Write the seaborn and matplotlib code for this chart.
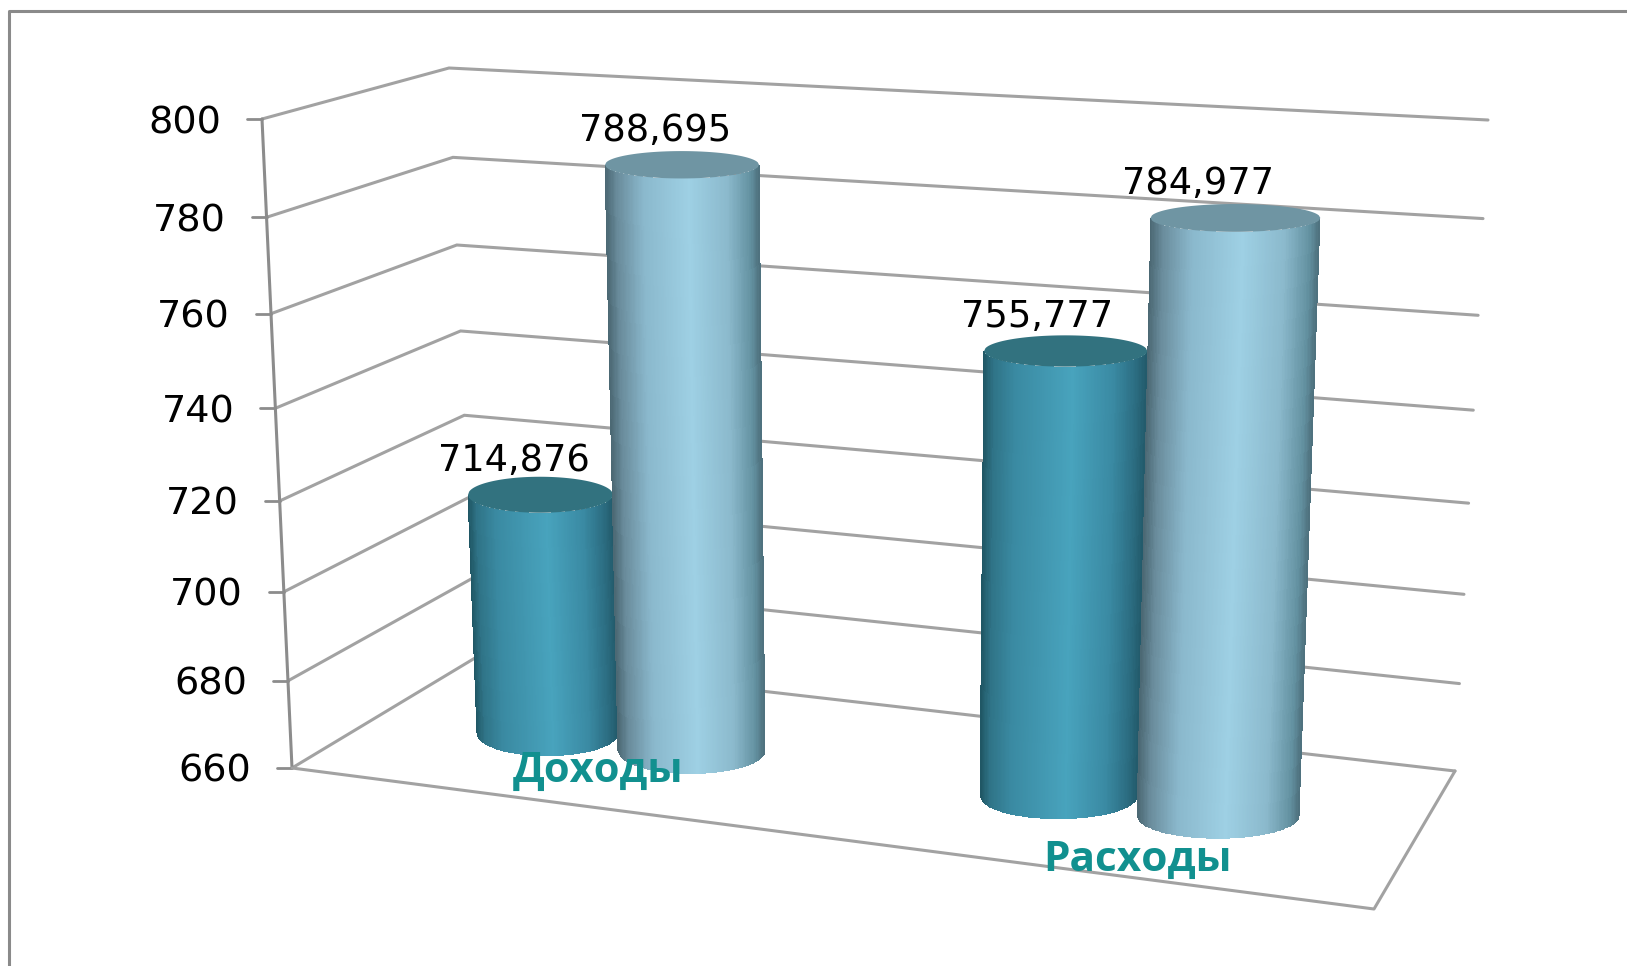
import numpy as np
import pandas as pd
import matplotlib
matplotlib.use("Agg")
import matplotlib.pyplot as plt
from matplotlib.colors import LinearSegmentedColormap
import seaborn as sns

# data
categories = ["Доходы", "Расходы"]
series_names = ["Ряд 1", "Ряд 2"]
series_1 = [714.876, 755.777]
series_2 = [788.695, 784.977]
tick_values = [660, 680, 700, 720, 740, 760, 780, 800]

# 3d box corners in image pixels: (depth front/back, bottom/top, left/right)
BOX = {
    "fbl": (292, 768), "ftl": (262, 119), "fbr": (1374, 909), "ftr": (1402, 190),
    "bbl": (475, 658), "btl": (449, 68), "bbr": (1455, 771), "btr": (1488, 120),
}
XLIM = (-0.4895, 1.4965)
YLIM = (660, 800)
DEPTH = 0.5
GRID = "#a2a2a2"
AXIS = "#8c8c8c"
LABEL_DX = [-26, -26, -28, -37]

sns.set_theme(style="white")
plt.rcParams["font.family"] = ["DejaVu Sans"]

fig = plt.figure(figsize=(16.27, 9.66), dpi=100, facecolor="white")

# seaborn does the categorical layout, the bars get redrawn in perspective
ax = fig.add_axes([0, 0, 1, 1])
df = pd.DataFrame({
    "category": categories * 2,
    "series": [series_names[0]] * 2 + [series_names[1]] * 2,
    "value": series_1 + series_2,
})
sns.barplot(df, x="category", y="value", hue="series", width=0.585, gap=0,
            palette=["#3a8aa2", "#9ed0e4"], legend=False, ax=ax)
ax.set_xlim(*XLIM)
ax.set_ylim(*YLIM)
ax.set_axis_off()
bars = [p for p in ax.patches]
for p in bars:
    p.set_visible(False)

px = fig.add_axes([0, 0, 1, 1], facecolor="none")
px.set_xlim(0, 1627)
px.set_ylim(966, 0)
px.set_axis_off()


def height_frac(v):
    t = (np.asarray(v, dtype=float) - YLIM[0]) / (YLIM[1] - YLIM[0])
    return 0.93 * t + 0.07 * t ** 2


def proj(x, depth, v):
    # x in category units, depth 0 front .. 1 back
    f = (np.asarray(x, dtype=float) - XLIM[0]) / (XLIM[1] - XLIM[0])
    f = 0.90 * f + 0.10 * f ** 2
    t = height_frac(v)
    out = []
    for i in (0, 1):
        front = ((1 - f) * ((1 - t) * BOX["fbl"][i] + t * BOX["ftl"][i])
                 + f * ((1 - t) * BOX["fbr"][i] + t * BOX["ftr"][i]))
        back = ((1 - f) * ((1 - t) * BOX["bbl"][i] + t * BOX["btl"][i])
                + f * ((1 - t) * BOX["bbr"][i] + t * BOX["btr"][i]))
        out.append((1 - depth) * front + depth * back)
    return out[0], out[1]


# frame of the picture, runs off right and bottom
px.plot([9.5, 9.5, 1640], [980, 10.5, 10.5], color="#8a8a8a", lw=2.2, clip_on=False)

# walls
for v in tick_values:
    x0, y0 = proj(XLIM[0], 0, v)
    x1, y1 = proj(XLIM[0], 1, v)
    x2, y2 = proj(XLIM[1], 1, v)
    px.plot([x0, x1, x2], [y0, y1, y2], color=GRID, lw=2.2, zorder=1, solid_joinstyle="miter")
    px.plot([x0 - 15, x0], [y0, y0], color=AXIS, lw=2, zorder=1)
    px.text(x0 - 41, y0 + 4, str(v), ha="right", va="center", fontsize=27.5, color="black")

xa, ya = proj(XLIM[0], 0, YLIM[0])
xb, yb = proj(XLIM[0], 0, YLIM[1])
px.plot([xa, xb], [ya, yb], color=AXIS, lw=2.2, zorder=1)

# floor
fx = [proj(XLIM[0], 0, YLIM[0])[0], proj(XLIM[1], 0, YLIM[0])[0], proj(XLIM[1], 1, YLIM[0])[0]]
fy = [proj(XLIM[0], 0, YLIM[0])[1], proj(XLIM[1], 0, YLIM[0])[1], proj(XLIM[1], 1, YLIM[0])[1]]
px.plot(fx, fy, color=GRID, lw=2.2, zorder=1)

# cylinders
teal = LinearSegmentedColormap.from_list("teal", [
    (0, "#1f5563"), (0.06, "#2f7386"), (0.2, "#3a8aa2"), (0.55, "#48a3bd"),
    (0.8, "#3a8aa3"), (0.95, "#2a6a7e"), (1, "#225a6a")])
light = LinearSegmentedColormap.from_list("light", [
    (0, "#4a6772"), (0.08, "#6a8c9c"), (0.25, "#8ab8cc"), (0.55, "#9ed0e4"),
    (0.8, "#8bb9cc"), (0.95, "#62909f"), (1, "#4d6f7c")])
cmaps = [teal, teal, light, light]
cap_colors = ["#32727f", "#32727f", "#6f95a3", "#6f95a3"]

# left to right, so each bar sits in front of its neighbour
order = sorted(range(len(bars)), key=lambda i: bars[i].get_x())
for z, i in enumerate(order):
    p = bars[i]
    value = p.get_height()
    s = np.linspace(0, 1, 121)
    mid = (s[:-1] + s[1:]) / 2
    xs = p.get_x() + p.get_width() * s
    arc = np.sqrt(np.clip(1 - (2 * s - 1) ** 2, 0, 1))
    xc = p.get_x() + p.get_width() / 2

    # ellipses stay level, only the centre follows the box
    x_bot = proj(xs, DEPTH, YLIM[0])[0]
    x_top = proj(xs, DEPTH, value)[0]
    y_bot = proj(xc, DEPTH, YLIM[0])[1]
    y_top = proj(xc, DEPTH, value)[1] - 2
    ry_top = 21 - 8 * float(height_frac(value))
    X = np.vstack([x_top, x_bot])
    Y = np.vstack([y_top + ry_top * arc, y_bot + 23 * arc])
    px.pcolormesh(X, Y, mid[None, :], cmap=cmaps[i], vmin=0, vmax=1, shading="flat",
                  zorder=3 + z, antialiased=False, linewidth=0)
    px.fill(np.r_[x_top, x_top[::-1]], np.r_[y_top + ry_top * arc, y_top - ry_top * arc[::-1]],
            color=cap_colors[i], lw=0, zorder=3 + z)

    # value label, Excel leaves it up and to the left of the cap
    cx = proj(xc, DEPTH, value)[0]
    px.text(cx + LABEL_DX[z], y_top - 34, f"{value:.3f}".replace(".", ","), ha="center",
            va="center", fontsize=26.5, color="black", zorder=10)

# category names
px.text(598, 771, categories[0], ha="center", va="center", fontsize=30, fontweight="bold",
        color="#11908f", family="Open Sans", zorder=11)
px.text(1138, 860, categories[1], ha="center", va="center", fontsize=30.5, fontweight="bold",
        color="#11908f", family="Open Sans", zorder=11)

fig.savefig("out.png", dpi=100)
